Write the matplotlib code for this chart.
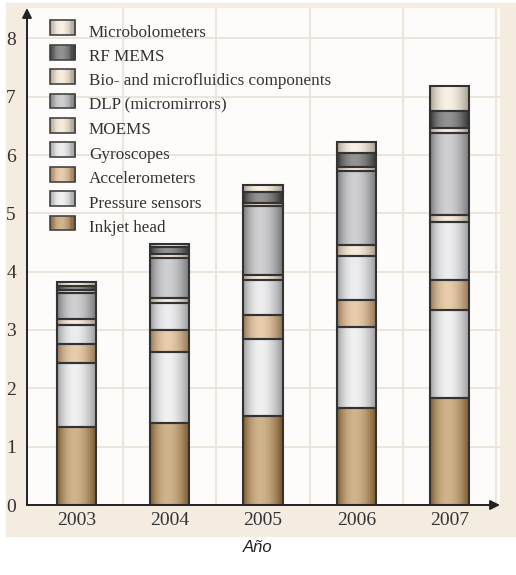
import numpy as np
import matplotlib.pyplot as plt
from matplotlib.patches import Rectangle, Patch
from matplotlib.colors import to_rgb

years = ["2003", "2004", "2005", "2006", "2007"]

# stacked values, bottom to top
inkjet = [1.33, 1.41, 1.53, 1.67, 1.83]
pressure = [1.10, 1.22, 1.31, 1.39, 1.51]
accel = [0.33, 0.37, 0.42, 0.46, 0.51]
gyro = [0.33, 0.46, 0.60, 0.75, 1.01]
moems = [0.10, 0.09, 0.09, 0.19, 0.11]
dlp = [0.45, 0.68, 1.17, 1.26, 1.41]
bio = [0.05, 0.07, 0.06, 0.08, 0.08]
rf_mems = [0.07, 0.12, 0.19, 0.23, 0.29]
microbolo = [0.07, 0.06, 0.12, 0.20, 0.44]

series = [
    ("Inkjet head", inkjet, "#ad7d3a"),
    ("Pressure sensors", pressure, "#e6e6e8"),
    ("Accelerometers", accel, "#d6a872"),
    ("Gyroscopes", gyro, "#dfe0e4"),
    ("MOEMS", moems, "#f0dcc2"),
    ("DLP (micromirrors)", dlp, "#acadb0"),
    ("Bio- and microfluidics components", bio, "#f3dec6"),
    ("RF MEMS", rf_mems, "#444444"),
    ("Microbolometers", microbolo, "#f3e6d0"),
]


def shade(base, n=64):
    # cylinder-like horizontal shading, highlight a bit left of centre
    t = np.linspace(0, 1, n)
    s = np.clip(np.sin(np.pi * t ** 0.85), 0, 1) ** 0.9
    c = np.array(to_rgb(base))
    dark = c * 0.66
    light = c + (1 - c) * 0.42
    return dark[None, :] * (1 - s[:, None]) + light[None, :] * s[:, None]


class GradHandler:
    def legend_artist(self, legend, orig_handle, fontsize, handlebox):
        x0, y0 = handlebox.xdescent, handlebox.ydescent
        w, h = handlebox.width, handlebox.height
        cols = shade(orig_handle.get_facecolor(), 20)
        n = len(cols)
        for k, col in enumerate(cols):
            handlebox.add_artist(Rectangle((x0 + k * w / n, y0), w / n + 0.3, h,
                                           facecolor=col, edgecolor="none",
                                           transform=handlebox.get_transform()))
        box = Rectangle((x0, y0), w, h, facecolor="none", edgecolor="#444444",
                        lw=1.2, transform=handlebox.get_transform())
        handlebox.add_artist(box)
        return box


fig = plt.figure(figsize=(5.16, 5.75), dpi=100)
fig.patches.append(Rectangle((6 / 516, 39 / 575), 510 / 516, 533 / 575,
                             transform=fig.transFigure, color="#f4ebe1", zorder=-10))
ax = fig.add_axes([27 / 516, 70 / 575, 473 / 516, 497 / 575])
ax.set_zorder(1)
ax.set_facecolor("#fdfcfa")

x = np.arange(len(years))
w = 0.42
bottom = np.zeros(len(years))
for name, vals, col in series:
    vals = np.array(vals)
    img = shade(col)[None, :, :]
    for i in range(len(years)):
        ax.imshow(img, extent=[x[i] - w / 2, x[i] + w / 2, bottom[i], bottom[i] + vals[i]],
                  aspect="auto", interpolation="bilinear", zorder=2)
    ax.bar(x, vals, w, bottom=bottom, facecolor="none", edgecolor="#333333",
           linewidth=1.5, zorder=3)
    bottom += vals

ax.set_xlim(-0.53, 4.54)
ax.set_ylim(0, 8.52)

# grid
for k in range(1, 9):
    ax.axhline(k, color="#ebe3d9", lw=1.3, zorder=1)
for k in range(5):
    ax.axvline(k + 0.5, color="#ebe3d9", lw=1.3, zorder=1)

for s in ["top", "right", "left", "bottom"]:
    ax.spines[s].set_visible(False)
ax.annotate("", xy=(0, 1.0), xytext=(0, 0), xycoords="axes fraction",
            arrowprops=dict(arrowstyle="-|>", color="#222222", lw=1.4,
                            mutation_scale=14, shrinkA=0, shrinkB=0))
ax.annotate("", xy=(1.0, 0), xytext=(0, 0), xycoords="axes fraction",
            arrowprops=dict(arrowstyle="-|>", color="#222222", lw=1.4,
                            mutation_scale=14, shrinkA=0, shrinkB=0))

ax.set_yticks(range(9))
ax.set_xticks(x, years)
ax.tick_params(length=0, labelsize=14, colors="#333333")
ax.tick_params(axis="y", pad=8)
ax.tick_params(axis="x", pad=5)
for lab in ax.get_xticklabels() + ax.get_yticklabels():
    lab.set_family("Liberation Serif")

handles = [Patch(facecolor=col, label=name) for name, vals, col in series[::-1]]
leg = ax.legend(handles=handles, handler_map={Patch: GradHandler()},
                loc="upper left", bbox_to_anchor=(0.048, 0.969), frameon=False,
                prop={"family": "Liberation Serif", "size": 12.3},
                handlelength=1.5, handleheight=0.95, labelspacing=0.42,
                handletextpad=0.8, borderpad=0, borderaxespad=0)
for t in leg.get_texts():
    t.set_color("#333333")

fig.text(0.5, 1 - 548 / 575, "Año", ha="center", va="center",
         family="Liberation Sans", style="italic", size=12, color="#222222")

fig.savefig("out.png", dpi=100)
